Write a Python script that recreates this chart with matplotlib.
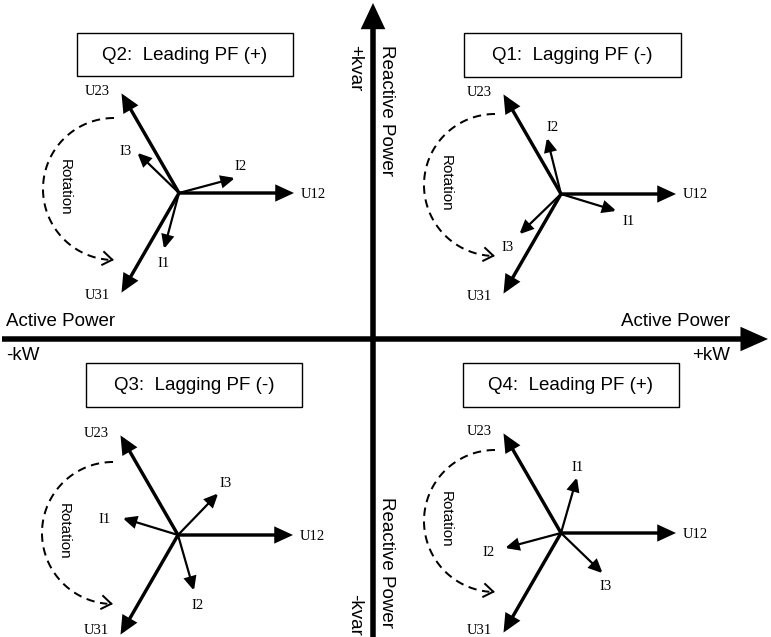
"""
Power quadrants: phasor diagrams of U12/U23/U31 and I1/I2/I3 in each quadrant
"""

import numpy as np
import matplotlib
matplotlib.use('Agg')
import matplotlib.pyplot as plt
from matplotlib.patches import FancyArrowPatch, ArrowStyle, Rectangle

# ---- data -------------------------------------------------------------
quadrants = ['Q1', 'Q2', 'Q3', 'Q4']
titles = ['Q1:  Lagging PF (-)', 'Q2:  Leading PF (+)',
          'Q3:  Lagging PF (-)', 'Q4:  Leading PF (+)']

voltage_names = ['U12', 'U23', 'U31']
voltage_angles = [0, 120, 240]          # degrees
voltage_length = 115

current_names = ['I1', 'I2', 'I3']
current_angles = {
    'Q1': [-17, 104, 224],
    'Q2': [255, 15, 136],
    'Q3': [163, 286, 46],
    'Q4': [74, 195, 316],
}
current_length = 58

# ---- layout (pixel space, y down) ------------------------------------
W, H = 771, 637
AX_X, AX_Y = 373, 339

centers = {'Q1': (561, 194), 'Q2': (179, 193), 'Q3': (178, 535), 'Q4': (561, 533)}
boxes = {'Q1': (464, 33, 217, 44), 'Q2': (77, 33, 216, 43),
         'Q3': (86, 363, 216, 44), 'Q4': (463, 363, 216, 44)}
arc_offset = {'Q1': (-66, -9), 'Q2': (-65, -4), 'Q3': (-65, -2), 'Q4': (-66, -12)}
ARC_R = 71

volt_label_off = {'U12': (20, 1), 'U23': (-24, -2), 'U31': (-24, 3)}
curr_label_off = {
    'Q1': {'I1': (12, 11), 'I2': (6, -10), 'I3': (-12, 13)},
    'Q2': {'I1': (0, 14), 'I2': (6, -11), 'I3': (-12, -1)},
    'Q3': {'I1': (-18, 1), 'I2': (4, 15), 'I3': (7, -10)},
    'Q4': {'I1': (1, -10), 'I2': (-16, 4), 'I3': (3, 13)},
}

SANS = 'Liberation Sans'
SERIF = 'Liberation Serif'
PX = 72 / 100  # points per pixel at dpi=100


def arrow(ax, p0, p1, lw_px, hl_px, hw_px, style='-|>'):
    st = ArrowStyle(style, head_length=hl_px * PX, head_width=hw_px * PX)
    a = FancyArrowPatch(p0, p1, arrowstyle=st, mutation_scale=1,
                        lw=lw_px * PX, color='black', shrinkA=0, shrinkB=0,
                        joinstyle='miter', capstyle='butt')
    ax.add_patch(a)


def tip(center, angle, length):
    t = np.deg2rad(angle)
    return center[0] + length * np.cos(t), center[1] - length * np.sin(t)


fig = plt.figure(figsize=(W / 100, H / 100), dpi=100)
ax = fig.add_axes([0, 0, 1, 1])
ax.set_xlim(0, W)
ax.set_ylim(H, 0)
ax.axis('off')

# main axes
arrow(ax, (2, AX_Y), (768, AX_Y), 5.5, 18, 8)
arrow(ax, (AX_X, H + 5), (AX_X, 3), 5.5, 17, 8)

ax.text(6, 322, 'Active Power', family=SANS, fontsize=13.5, ha='left', va='center')
ax.text(6, 355, '-kW', family=SANS, fontsize=13.5, ha='left', va='center')
ax.text(730, 322, 'Active Power', family=SANS, fontsize=13.5, ha='right', va='center')
ax.text(730, 355, '+kW', family=SANS, fontsize=13.5, ha='right', va='center')
ax.text(387, 45, 'Reactive Power', family=SANS, fontsize=13.5, rotation=-90,
        ha='center', va='top')
ax.text(355, 45, '+kvar', family=SANS, fontsize=13.5, rotation=-90,
        ha='center', va='top')
ax.text(387, 628, 'Reactive Power', family=SANS, fontsize=13.5, rotation=-90,
        ha='center', va='bottom')
ax.text(355, 636, '-kvar', family=SANS, fontsize=13.5, rotation=-90,
        ha='center', va='bottom')

theta = np.linspace(np.pi / 2, 3 * np.pi / 2, 120)

for q, title in zip(quadrants, titles):
    c = centers[q]

    # title box
    bx, by, bw, bh = boxes[q]
    ax.add_patch(Rectangle((bx, by), bw, bh, fill=False, ec='black', lw=1.0))
    ax.text(bx + bw / 2, by + bh / 2 + 1, title, family=SANS, fontsize=13.5,
            ha='center', va='center')

    # voltages
    for name, ang in zip(voltage_names, voltage_angles):
        p = tip(c, ang, voltage_length)
        arrow(ax, c, p, 3.4, 13, 6)
        dx, dy = volt_label_off[name]
        if name == 'U12':
            ax.text(p[0] + 7, p[1] + dy, name, family=SERIF, fontsize=10.5,
                    ha='left', va='center')
        else:
            # keep the bottom labels inside the picture
            ly = min(p[1] + dy, H - 6)
            ax.text(p[0] + dx, ly, name, family=SERIF, fontsize=10.5,
                    ha='center', va='center')

    # currents
    for name, ang in zip(current_names, current_angles[q]):
        p = tip(c, ang, current_length)
        arrow(ax, c, p, 2.2, 11, 5)
        dx, dy = curr_label_off[q][name]
        ax.text(p[0] + dx, p[1] + dy, name, family=SERIF, fontsize=10.5,
                ha='center', va='center')

    # rotation arc
    acx, acy = c[0] + arc_offset[q][0], c[1] + arc_offset[q][1]
    ax.plot(acx + ARC_R * np.cos(theta[:-3]), acy - ARC_R * np.sin(theta[:-3]),
            color='black', lw=2.0 * PX, linestyle=(0, (4.2, 2.8)))
    end = (acx, acy + ARC_R)
    arrow(ax, (end[0] - 2, end[1] - 0.3), end, 2.0, 10, 7, style='->')
    ax.text(acx - 49, acy - 2, 'Rotation', family=SANS, fontsize=11,
            rotation=-90, ha='center', va='center')

fig.savefig('out.png', dpi=100)
